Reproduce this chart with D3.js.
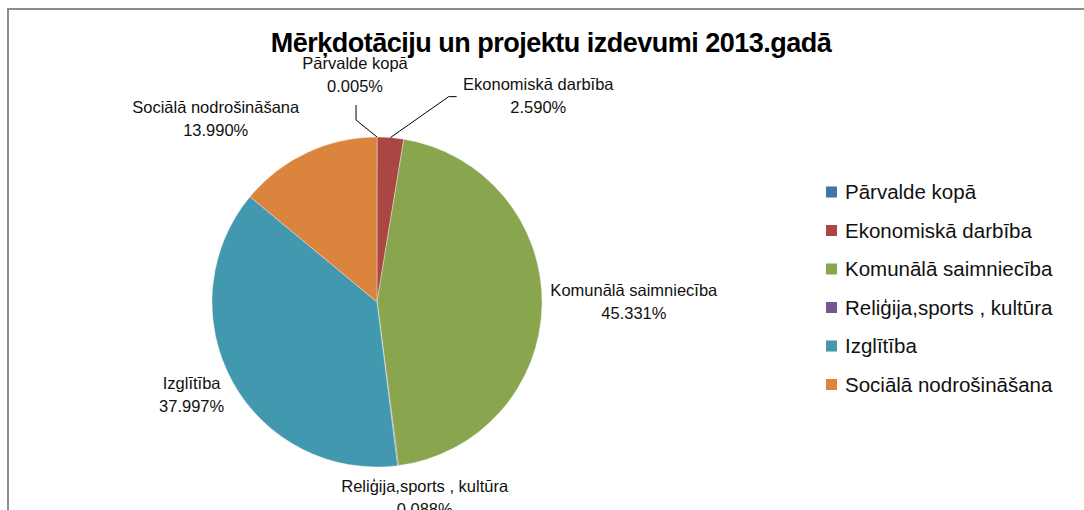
<!DOCTYPE html>
<html>
<head>
<meta charset="utf-8">
<script src="https://cdn.jsdelivr.net/npm/d3@7"></script>
<style>
  body { margin: 0; background: #fff; }
  svg { display: block; font-family: "Liberation Sans", Arial, sans-serif; }
</style>
</head>
<body>
<div id="chart"></div>
<script>
// chart data
const title = "Mērķdotāciju un projektu izdevumi 2013.gadā";
const categories = ["Pārvalde kopā", "Ekonomiskā darbība", "Komunālā saimniecība",
  "Reliģija,sports , kultūra", "Izglītība", "Sociālā nodrošināšana"];
const values = [0.005, 2.590, 45.331, 0.088, 37.997, 13.990];
const colors = ["#4572A7", "#AA4643", "#89A54E", "#71588F", "#4198AF", "#DB843D"];

// label nudges (excel "best fit" placement), relative to default spot
const labelNudge = [[-22, -30], [141, -10], [0, -2], [15, 3], [-5, 0], [-52, -5]];
const leader = [true, true, false, false, false, false];

const width = 1084, height = 510;
const cx = 377, cy = 302, r = 165;

const svg = d3.select("#chart").append("svg")
  .attr("width", width).attr("height", height);

// outer frame (only top and left visible in the crop)
svg.append("path")
  .attr("d", `M8,${height} L8,9 L${width},9`)
  .attr("fill", "none").attr("stroke", "#8c8c8c").attr("stroke-width", 2);

svg.append("text")
  .attr("x", 551).attr("y", 52)
  .attr("text-anchor", "middle")
  .style("font-size", "27px").style("font-weight", "bold")
  .style("letter-spacing", "-0.5px")
  .text(title);

const data = categories.map((c, i) => ({name: c, value: values[i], color: colors[i], i: i}));

const pie = d3.pie().sort(null).value(d => d.value);
const arc = d3.arc().innerRadius(0).outerRadius(r);
const arcs = pie(data);

const g = svg.append("g").attr("transform", `translate(${cx},${cy})`);

g.selectAll("path.slice").data(arcs).enter().append("path")
  .attr("class", "slice")
  .attr("d", arc)
  .attr("fill", d => d.data.color)
  .attr("stroke", "#f4f0ea").attr("stroke-width", 0.4);

// data labels
const lh = 23;
arcs.forEach(d => {
  const a = (d.startAngle + d.endAngle) / 2;
  const s = Math.sin(a), c = -Math.cos(a);
  const line1 = d.data.name, line2 = d.data.value.toFixed(3) + "%";
  const t = g.append("text").style("font-size", "16.5px").attr("fill", "#111")
    .attr("text-anchor", "middle");
  t.append("tspan").attr("x", 0).attr("y", 0).text(line1);
  t.append("tspan").attr("x", 0).attr("y", lh).text(line2);
  const bb = t.node().getBBox();
  const w = bb.width, h = lh * 2;
  const ax = (r + 8) * s, ay = (r + 8) * c;
  const nx = ax + s * w / 2 + labelNudge[d.index][0];
  const ny = ay + c * h / 2 + labelNudge[d.index][1];
  t.attr("transform", `translate(${nx},${ny - h / 2 + 16})`);

  if (leader[d.index]) {
    const px = r * s, py = r * c;
    let pts;
    if (d.index === 0) {
      pts = [[px, py], [nx + 1, py - 17], [nx + 1, ny + h / 2 + 6]];
    } else {
      const ex = nx - w / 2 - 6;
      pts = [[px, py], [ex - 8, ny], [ex, ny]];
    }
    g.append("path")
      .attr("d", d3.line()(pts))
      .attr("fill", "none").attr("stroke", "#000").attr("stroke-width", 1);
  }
});

// legend
const legend = svg.append("g").attr("transform", "translate(826,192)");
const item = legend.selectAll("g").data(data).enter().append("g")
  .attr("transform", (d, i) => `translate(0,${i * 38.5})`);
item.append("rect").attr("x", 0).attr("y", -5.5).attr("width", 11).attr("height", 11)
  .attr("fill", d => d.color);
item.append("text").attr("x", 19).attr("y", 7)
  .style("font-size", "20.5px").attr("fill", "#111")
  .text(d => d.name);
</script>
</body>
</html>
